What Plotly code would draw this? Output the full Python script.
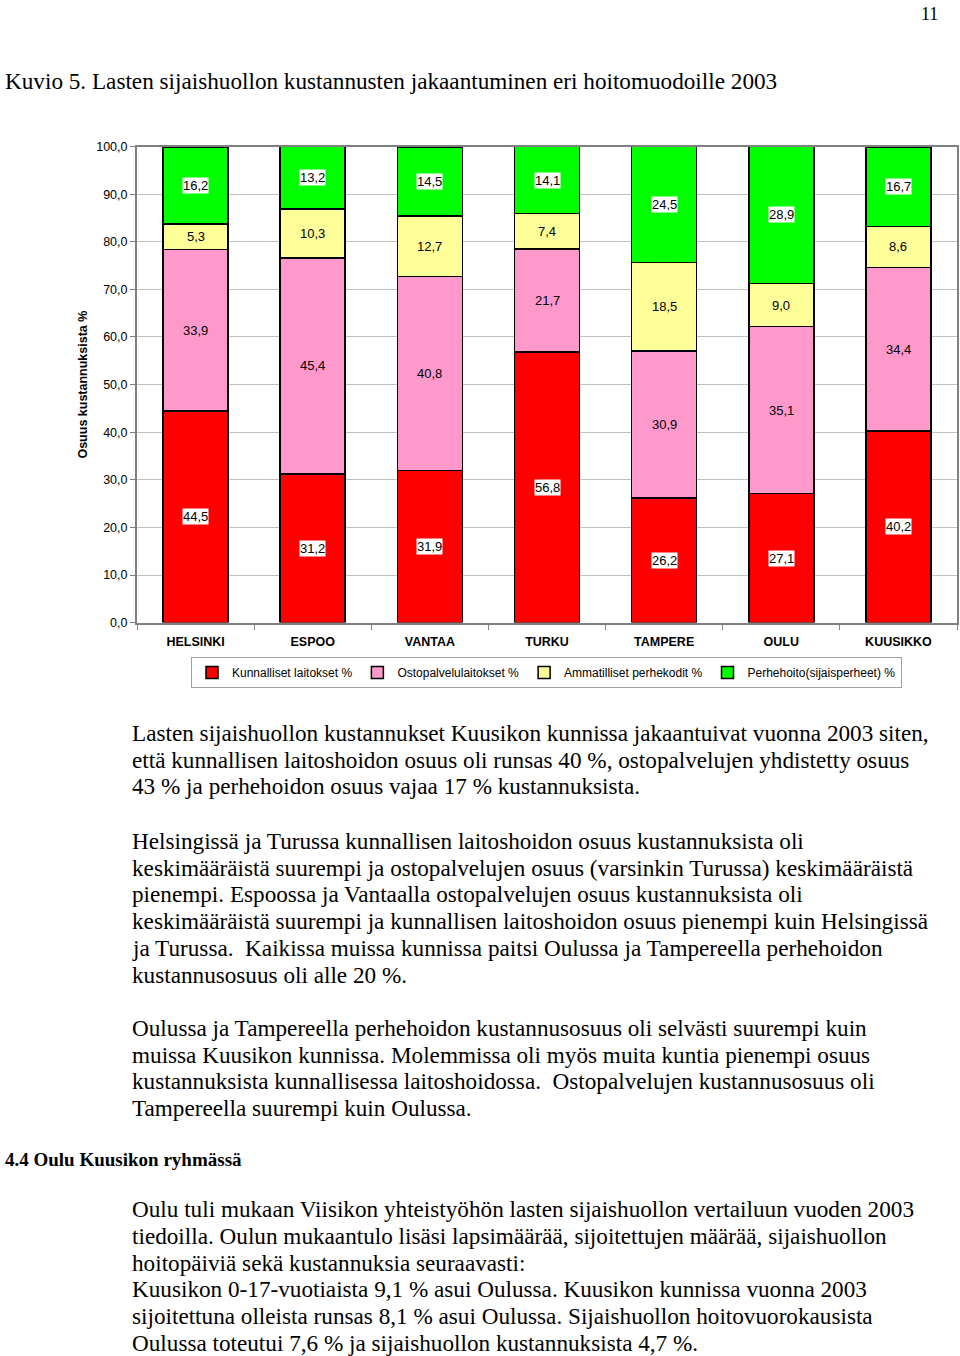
import plotly.graph_objects as go

# data (% of costs)
kunnat = ['HELSINKI', 'ESPOO', 'VANTAA', 'TURKU', 'TAMPERE', 'OULU', 'KUUSIKKO']
kunnalliset = [44.5, 31.2, 31.9, 56.8, 26.2, 27.1, 40.2]
ostopalvelu = [33.9, 45.4, 40.8, 21.7, 30.9, 35.1, 34.4]
ammatilliset = [5.3, 10.3, 12.7, 7.4, 18.5, 9.0, 8.6]
perhehoito = [16.2, 13.2, 14.5, 14.1, 24.5, 28.9, 16.7]

series_names = ['Kunnalliset laitokset %', 'Ostopalvelulaitokset %',
                'Ammatilliset perhekodit %', 'Perhehoito(sijaisperheet) %']
y_ticks = [0, 10, 20, 30, 40, 50, 60, 70, 80, 90, 100]

title_text = 'Kuvio 5. Lasten sijaishuollon kustannusten jakaantuminen eri hoitomuodoille 2003'
page_no = '11'
heading = '4.4 Oulu Kuusikon ryhmässä'

para1 = [
    'Lasten sijaishuollon kustannukset Kuusikon kunnissa jakaantuivat vuonna 2003 siten,',
    'että kunnallisen laitoshoidon osuus oli runsas 40 %, ostopalvelujen yhdistetty osuus',
    '43 % ja perhehoidon osuus vajaa 17 % kustannuksista.',
]
para2 = [
    'Helsingissä ja Turussa kunnallisen laitoshoidon osuus kustannuksista oli',
    'keskimääräistä suurempi ja ostopalvelujen osuus (varsinkin Turussa) keskimääräistä',
    'pienempi. Espoossa ja Vantaalla ostopalvelujen osuus kustannuksista oli',
    'keskimääräistä suurempi ja kunnallisen laitoshoidon osuus pienempi kuin Helsingissä',
    'ja Turussa.  Kaikissa muissa kunnissa paitsi Oulussa ja Tampereella perhehoidon',
    'kustannusosuus oli alle 20 %.',
]
para3 = [
    'Oulussa ja Tampereella perhehoidon kustannusosuus oli selvästi suurempi kuin',
    'muissa Kuusikon kunnissa. Molemmissa oli myös muita kuntia pienempi osuus',
    'kustannuksista kunnallisessa laitoshoidossa.  Ostopalvelujen kustannusosuus oli',
    'Tampereella suurempi kuin Oulussa.',
]
para4 = [
    'Oulu tuli mukaan Viisikon yhteistyöhön lasten sijaishuollon vertailuun vuoden 2003',
    'tiedoilla. Oulun mukaantulo lisäsi lapsimäärää, sijoitettujen määrää, sijaishuollon',
    'hoitopäiviä sekä kustannuksia seuraavasti:',
    'Kuusikon 0-17-vuotiaista 9,1 % asui Oulussa. Kuusikon kunnissa vuonna 2003',
    'sijoitettuna olleista runsas 8,1 % asui Oulussa. Sijaishuollon hoitovuorokausista',
    'Oulussa toteutui 7,6 % ja sijaishuollon kustannuksista 4,7 %.',
]

W, H = 960, 1356
colors = ['#FF0000', '#FF99CC', '#FFFF99', '#00FF00']
series = [kunnalliset, ostopalvelu, ammatilliset, perhehoito]
label_bg = [True, False, False, True]


def fmt(v):
    return f'{v:.1f}'.replace('.', ',')


def py(pix):
    # target pixel row (from top) -> paper y; the snapshot squeezes rows a little
    spec = (pix - 6.5) / 0.9895
    return 1 - spec / H


fig = go.Figure()
for name, vals, col in zip(series_names, series, colors):
    fig.add_trace(go.Bar(
        x=kunnat, y=vals, name=name,
        marker=dict(color=col, line=dict(color='black', width=1.5)),
    ))

# segment labels (centered, white box on red and green)
annotations = []
base = [0.0] * len(kunnat)
for vals, bg in zip(series, label_bg):
    for i, v in enumerate(vals):
        annotations.append(dict(
            x=kunnat[i], y=base[i] + v / 2, xref='x', yref='y',
            text=fmt(v), showarrow=False,
            font=dict(family='Liberation Sans, Arial', size=13, color='black'),
            bgcolor='white' if bg else 'rgba(0,0,0,0)', borderpad=0,
        ))
        base[i] += v

# y axis title
annotations.append(dict(
    x=83 / W, y=py(384), xref='paper', yref='paper', text='Osuus kustannuksista %',
    textangle=-90, showarrow=False, xanchor='center', yanchor='middle',
    font=dict(family='Liberation Sans, Arial', size=12.5, color='black', weight='bold'),
))

serif = 'Liberation Serif, Times New Roman'
annotations.append(dict(x=3 / W, y=py(80), xref='paper', yref='paper', text=title_text,
                        xanchor='left', yanchor='middle', showarrow=False,
                        font=dict(family=serif, size=23.2, color='black')))
annotations.append(dict(x=940 / W, y=1, xref='paper', yref='paper', text=page_no,
                        xanchor='right', yanchor='top', showarrow=False, yshift=5,
                        font=dict(family=serif, size=18, color='black')))
annotations.append(dict(x=3 / W, y=py(1159), xref='paper', yref='paper', text=heading,
                        xanchor='left', yanchor='middle', showarrow=False,
                        font=dict(family=serif, size=19, color='black', weight='bold')))

for lines, top in [(para1, 732), (para2, 840), (para3, 1027), (para4, 1208)]:
    for k, line in enumerate(lines):
        annotations.append(dict(
            x=130 / W, y=py(top + 26.9 * k), xref='paper', yref='paper', text=line,
            xanchor='left', yanchor='middle', showarrow=False,
            font=dict(family=serif, size=23.2, color='black'),
        ))

fig.update_layout(
    barmode='stack', bargap=0.445,
    width=W, height=H,
    margin=dict(l=0, r=0, t=0, b=0),
    plot_bgcolor='white', paper_bgcolor='white',
    xaxis=dict(domain=[137 / W, 957 / W], showline=True, linecolor='#808080', linewidth=2,
               mirror=True, ticks='outside', tickson='boundaries', ticklen=5, tickcolor='#808080',
               ticklabelstandoff=6,
               tickfont=dict(family='Liberation Sans, Arial', size=12.5, color='black', weight='bold')),
    yaxis=dict(domain=[py(622), py(146)], range=[0, 100], showline=True, linecolor='#808080',
               linewidth=2, mirror=True, tickvals=y_ticks, ticktext=[fmt(t) for t in y_ticks],
               ticks='outside', ticklen=5, tickcolor='#808080', gridcolor='#C0C0C0',
               gridwidth=1, zeroline=False,
               tickfont=dict(family='Liberation Sans, Arial', size=12.5, color='black')),
    legend=dict(orientation='h', x=(200 + 893) / 2 / W, xanchor='center', y=py(672),
                yanchor='middle', bordercolor='#A0A0A0', borderwidth=1,
                font=dict(family='Liberation Sans, Arial', size=12, color='black'),
                traceorder='normal', itemwidth=30),
    annotations=annotations,
)

pin_page = (
    "document.documentElement.style.margin='0';"
    "document.body.style.margin='0';"
    "document.body.style.padding='0';"
    "document.body.style.overflow='hidden';"
    "var gd=document.querySelector('.plotly-graph-div');"
    "gd.style.position='absolute';gd.style.top='0';gd.style.left='0';"
)
fig.write_html('out.html', post_script=pin_page, config={'displayModeBar': False})
